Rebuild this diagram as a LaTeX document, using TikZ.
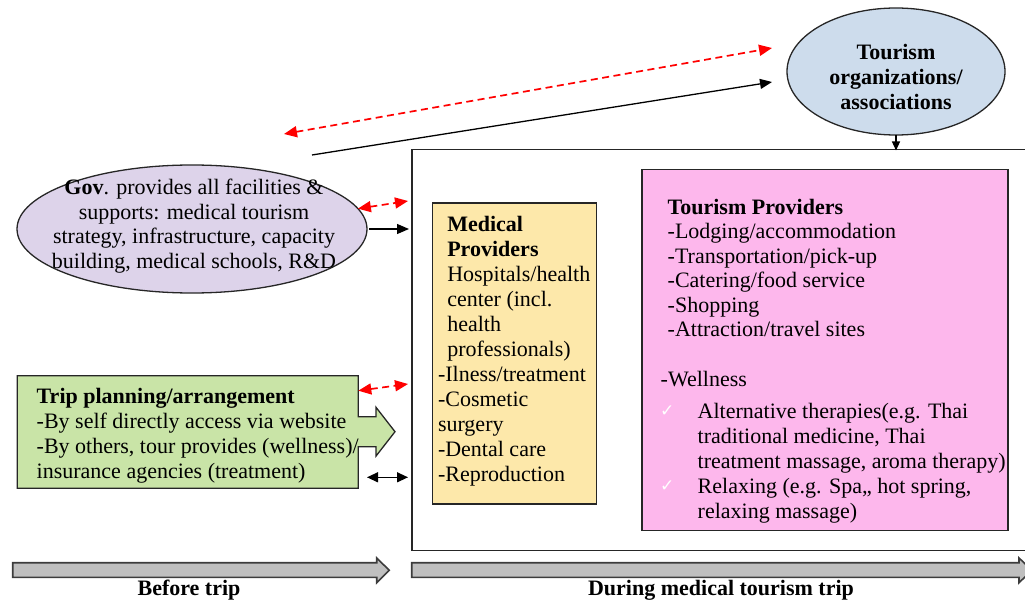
\documentclass[tikz,border=0pt]{standalone}
\usepackage{fontspec}
\setmainfont{Liberation Serif}
\newfontfamily\symfont{DejaVu Sans}
\usetikzlibrary{arrows.meta,shapes.geometric}

\definecolor{govlav}{HTML}{DDD3EA}
\definecolor{tourblue}{HTML}{CDDCEC}
\definecolor{medgold}{HTML}{FDE8AA}
\definecolor{tppink}{HTML}{FDB7EC}
\definecolor{plangreen}{HTML}{C9E4A7}
\definecolor{bargray}{HTML}{BFBFBF}
\definecolor{edge}{HTML}{262626}

% first-line strut: puts every block's first baseline 17pt below its top
\newcommand\firstline{\rule{0pt}{17pt}}

\begin{document}
\begin{tikzpicture}[x=1pt,y=-1pt,
  every node/.style={inner sep=0pt, outer sep=0pt},
  boxed/.style={draw=edge, line width=1.3pt, anchor=north west},
  oval/.style={ellipse, draw=edge, line width=1.3pt},
  body/.style={anchor=north west, align=left, font=\fontsize{22}{25}\selectfont},
  centred/.style={anchor=north, align=center, font=\fontsize{22}{24.7}\selectfont},
  label/.style={anchor=base, font=\bfseries\fontsize{22}{25}\selectfont},
  tick/.style={anchor=base west, text=white, font=\symfont\fontsize{17}{17}\selectfont},
  blk/.style={draw=black, line width=1.3pt, -{Triangle[length=12pt,width=10pt]}},
  blkboth/.style={draw=black, line width=1.3pt, {Triangle[length=11pt,width=10pt]}-{Triangle[length=11pt,width=10pt]}},
  reddash/.style={draw=red, line width=1.7pt, dash pattern=on 7pt off 4.5pt,
    {Triangle[length=13pt,width=11pt]}-{Triangle[length=13pt,width=11pt]}},
  timebar/.style={fill=bargray, draw=edge!90, line width=1.6pt, line join=miter}
]
\useasboundingbox (0,0) rectangle (1025,604);
\clip (0,0) rectangle (1025,604);

% ---------- main shapes ----------
\node[oval, fill=tourblue, minimum width=218pt, minimum height=127pt] (tour) at (896,71.5) {};
\node[oval, fill=govlav, minimum width=350pt, minimum height=128pt] (gov) at (192,229) {};
\node[boxed, minimum width=640pt, minimum height=401pt] (dur) at (412,149.5) {};
\node[boxed, fill=medgold, minimum width=164pt, minimum height=301pt] (med) at (432.5,203) {};
\node[boxed, fill=tppink, minimum width=366pt, minimum height=361pt] (tp) at (642,169.5) {};

% trip planning box with its arrow head
\filldraw[fill=plangreen, draw=edge, line width=1.3pt, line join=miter]
  (17.3,375.7) -- (358.3,375.7) coordinate (planNE) -- (358.3,416.7) -- (376,416.7)
  -- (376,407.3) -- (395,431.7) coordinate (planTip) -- (376,456.1) -- (376,446.7)
  -- (358.3,446.7) -- (358.3,488.3) coordinate (planSE) -- (17.3,488.3) -- cycle;

% ---------- texts ----------
\node[centred, font=\bfseries\fontsize{22}{25}\selectfont] (tourtext) at (896,43)
  {\firstline Tourism\\organizations/\\associations};

\node[centred] (govtext) at (194,177.3)
  {\firstline\textbf{Gov}. provides all facilities \&\\
   supports: medical tourism\\
   strategy, infrastructure, capacity\\
   building, medical schools, R\&D};

\node[body] (plantext) at (36.7,386)
  {\firstline\textbf{Trip planning/arrangement}\\
   -By self directly access via website\\
   -By others, tour provides (wellness)/\\
   insurance agencies (treatment)};

\node[body] (medhead) at (447.3,214)
  {\firstline\textbf{Medical}\\
   \textbf{Providers}\\
   Hospitals/health\\
   center (incl.\\
   health\\
   professionals)};
\node[body] (medlist) at (438,364)
  {\firstline -Ilness/treatment\\
   -Cosmetic\\
   surgery\\
   -Dental care\\
   -Reproduction};

\node[body, font=\fontsize{22}{24.5}\selectfont] (tphead) at (667.7,197)
  {\firstline\textbf{Tourism Providers}\\
   -Lodging/accommodation\\
   -Transportation/pick-up\\
   -Catering/food service\\
   -Shopping\\
   -Attraction/travel sites};
\node[body] (wellness) at (660.7,369.7) {\firstline -Wellness};
\node[body] (tplist) at (697.7,401)
  {\firstline Alternative therapies(e.g. Thai\\
   traditional medicine, Thai\\
   treatment massage, aroma therapy)\\
   Relaxing (e.g.  Spa,, hot spring,\\
   relaxing massage)};
\node[tick] (tick1) at (660,416) {✓};
\node[tick] (tick2) at (660,491) {✓};

% ---------- connectors ----------
\coordinate (govTop) at (312,155);
\coordinate (govRed) at (284,134);
\coordinate (tourRed) at (772,48);
\coordinate (tourBlk) at (772,82);
\draw[reddash] (govRed) -- (tourRed);
\draw[blk] (govTop) -- (tourBlk);
\draw[draw=black, line width=1.2pt, -{Triangle[length=9pt,width=8pt]}, shorten >=-1pt]
  (tour.south) -- (tour.south |- dur.north);

\coordinate (durGovRed) at (408,201);
\draw[reddash] (gov.7) -- (durGovRed);
\draw[blk, shorten <=2pt, shorten >=3pt] (gov.east) -- (gov.east -| dur.west);

\coordinate (planRed) at (358.3,390.7);
\coordinate (durPlanRed) at (408,384);
\draw[reddash] (planRed) -- (durPlanRed);
\coordinate (planBlk) at (367,477.3);
\draw[blkboth, shorten >=4pt] (planBlk) -- (planBlk -| dur.west);

% ---------- time line ----------
\filldraw[timebar] (12.7,562.7) -- (376.7,562.7) -- (376.7,558) -- (389.3,570.3)
  -- (376.7,582.7) -- (376.7,577.3) -- (12.7,577.3) -- cycle;
\filldraw[timebar] (411.7,562.7) -- (1019,562.7) -- (1019,558) -- (1032,570.3)
  -- (1019,582.7) -- (1019,577.3) -- (411.7,577.3) -- cycle;
\node[label] (before) at (189,595) {Before trip};
\node[label] (during) at (721,595) {During medical tourism trip};
\end{tikzpicture}
\end{document}
